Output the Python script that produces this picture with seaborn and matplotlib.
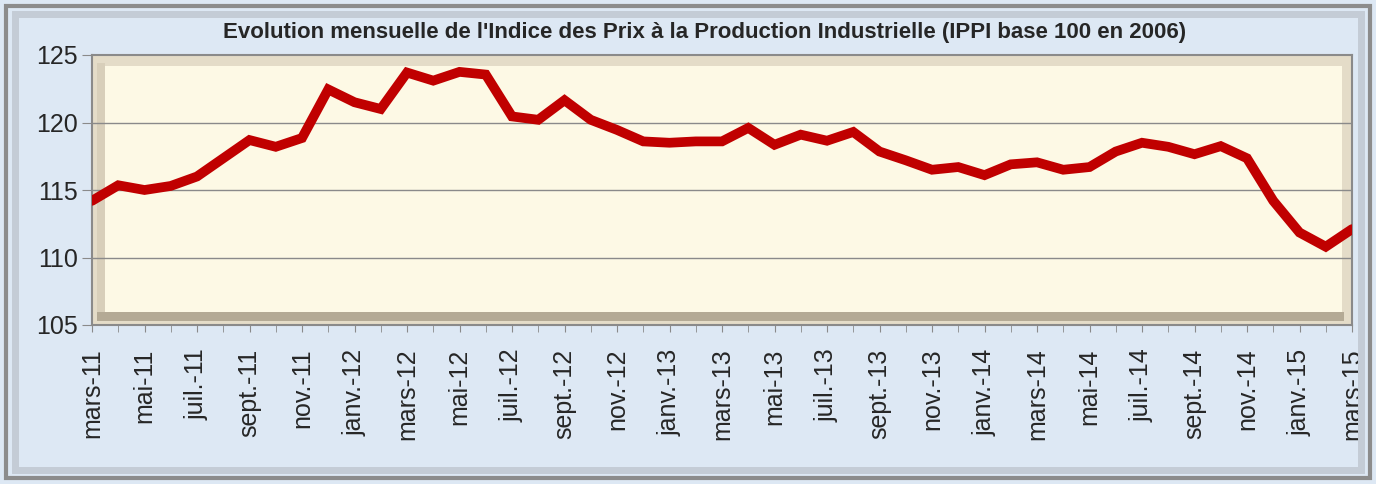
import matplotlib
matplotlib.use('Agg')
import matplotlib.pyplot as plt
import matplotlib.patches as mpatches
import pandas as pd
import seaborn as sns

months = ['mars-11', 'avr.-11', 'mai-11', 'juin-11', 'juil.-11', 'août-11', 'sept.-11', 'oct.-11', 'nov.-11', 'déc.-11',
          'janv.-12', 'févr.-12', 'mars-12', 'avr.-12', 'mai-12', 'juin-12', 'juil.-12', 'août-12', 'sept.-12', 'oct.-12', 'nov.-12', 'déc.-12',
          'janv.-13', 'févr.-13', 'mars-13', 'avr.-13', 'mai-13', 'juin-13', 'juil.-13', 'août-13', 'sept.-13', 'oct.-13', 'nov.-13', 'déc.-13',
          'janv.-14', 'févr.-14', 'mars-14', 'avr.-14', 'mai-14', 'juin-14', 'juil.-14', 'août-14', 'sept.-14', 'oct.-14', 'nov.-14', 'déc.-14',
          'janv.-15', 'févr.-15', 'mars-15']

ippi = [114.2, 115.35, 115.0, 115.3, 116.0, 117.35, 118.7, 118.2, 118.85, 122.45,
        121.5, 121.0, 123.7, 123.1, 123.75, 123.55, 120.45, 120.2, 121.65, 120.2, 119.45, 118.6,
        118.5, 118.6, 118.6, 119.6, 118.35, 119.1, 118.65, 119.3, 117.85, 117.2, 116.5, 116.7,
        116.1, 116.9, 117.05, 116.5, 116.7, 117.85, 118.5, 118.2, 117.65, 118.25, 117.35, 114.2,
        111.85, 110.8, 112.1]

y_ticks = [105, 110, 115, 120, 125]

df = pd.DataFrame({'idx': range(len(months)), 'mois': months, 'ippi': ippi})

sns.set_style('white')
plt.rcParams['font.family'] = ['Liberation Sans', 'DejaVu Sans']

fig = plt.figure(figsize=(13.76, 4.84), dpi=100)
fig.patch.set_facecolor('#dde8f4')

# outer frame of the chart
fig.patches.append(mpatches.Rectangle((0.004, 0.012), 0.992, 0.976, transform=fig.transFigure,
                                      fill=False, edgecolor='#8c8c8c', linewidth=3, zorder=0))
fig.patches.append(mpatches.Rectangle((0.011, 0.028), 0.978, 0.944, transform=fig.transFigure,
                                      fill=False, edgecolor='#c4ccd6', linewidth=5, zorder=0))

ax = fig.add_axes([92 / 1376, 1 - 325 / 484, 1260 / 1376, 270 / 484])
ax.set_facecolor('#e4dcc8')

# bevelled plot area
ax.add_patch(mpatches.Rectangle((0.004, 0.015), 0.99, 0.035, transform=ax.transAxes,
                                facecolor='#b4aa95', edgecolor='none', zorder=0))
ax.add_patch(mpatches.Rectangle((0.004, 0.05), 0.006, 0.92, transform=ax.transAxes,
                                facecolor='#d8cfba', edgecolor='none', zorder=0))
ax.add_patch(mpatches.Rectangle((0.01, 0.05), 0.982, 0.91, transform=ax.transAxes,
                                facecolor='#fdf9e5', edgecolor='none', zorder=0))

for y in y_ticks[1:-1]:
    ax.axhline(y, color='#8a8a8a', linewidth=1.0, zorder=1)

sns.lineplot(data=df, x='idx', y='ippi', ax=ax, color='#c00000', linewidth=7,
             solid_joinstyle='miter', zorder=3)

ax.set_xlim(0, len(months) - 1)
ax.set_ylim(105, 125)
ax.set_yticks(y_ticks)
ax.set_yticklabels([str(v) for v in y_ticks], fontsize=18)
ax.set_xticks(range(0, len(months), 2))
ax.set_xticklabels(months[::2], rotation=90, fontsize=18)
ax.set_xticks(range(len(months)), minor=True)
ax.tick_params(axis='x', which='both', length=5, color='#8a8a8a', bottom=True, pad=12)
ax.tick_params(axis='y', length=7, color='#8a8a8a', left=True, pad=3)
ax.set_xlabel('')
ax.set_ylabel('')

for side in ['top', 'right', 'left', 'bottom']:
    ax.spines[side].set_color('#8a8a8a')
    ax.spines[side].set_linewidth(1.5)

fig.text(0.512, 0.933, "Evolution mensuelle de l'Indice des Prix à la Production Industrielle (IPPI base 100 en 2006)",
         ha='center', va='center', fontsize=16, fontweight='bold')

fig.savefig('out.png', dpi=100, facecolor=fig.get_facecolor())
